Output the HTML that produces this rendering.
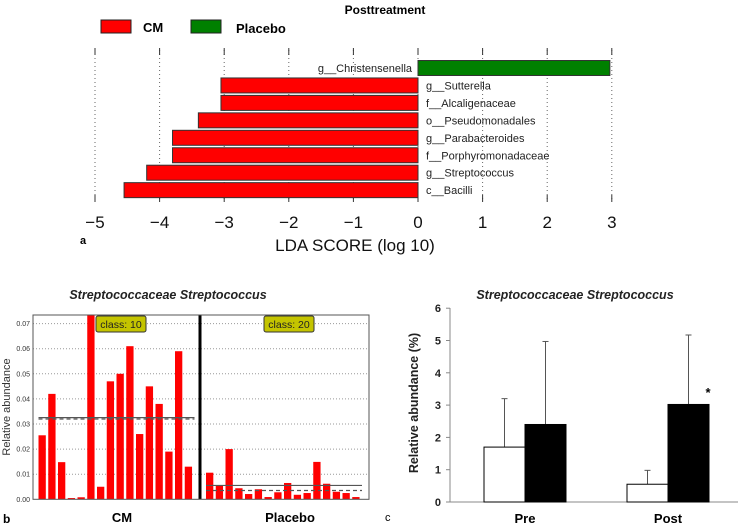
<!DOCTYPE html>
<html><head><meta charset="utf-8"><style>
body{margin:0;background:#fff;}
svg{display:block;font-family:"Liberation Sans","DejaVu Sans",sans-serif;}
</style></head><body>
<svg id="fig" width="740" height="526" viewBox="0 0 740 526">
<g id="pa"></g>
<g id="pb"></g>
<g id="pc"></g>
</svg>
<script>
const ldaFeatures=["g__Christensenella","g__Sutterella","f__Alcaligenaceae","o__Pseudomonadales","g__Parabacteroides","f__Porphyromonadaceae","g__Streptococcus","c__Bacilli"];
const ldaScores=[2.97,-3.05,-3.05,-3.4,-3.8,-3.8,-4.2,-4.55];
const ldaTicks=[-5,-4,-3,-2,-1,0,1,2,3];
const cmValues=[0.0255,0.042,0.0148,0.0005,0.0008,0.074,0.005,0.047,0.050,0.061,0.026,0.045,0.038,0.019,0.059,0.013];
const placeboValues=[0.0106,0.0054,0.020,0.0044,0.0021,0.004,0.0009,0.0028,0.0065,0.0018,0.0025,0.0149,0.0062,0.003,0.0025,0.0009];
const bTicks=[0,0.01,0.02,0.03,0.04,0.05,0.06,0.07];
const bTickLabels=["0.00","0.01","0.02","0.03","0.04","0.05","0.06","0.07"];
const cGroups=["Pre","Post"];
const cPlacebo=[1.7,0.55];
const cPlaceboErr=[1.5,0.43];
const cCM=[2.4,3.02];
const cCMErr=[2.57,2.15];
const cTicks=[0,1,2,3,4,5,6];

const NS="http://www.w3.org/2000/svg";
function mk(parent,tag,attrs,text){const e=document.createElementNS(NS,tag);for(const k in attrs)e.setAttribute(k,attrs[k]);if(text!==undefined)e.textContent=text;parent.appendChild(e);return e;}

// Panel A
const pa=document.getElementById('pa');
const ax=v=>418+v*64.6;
const rowY=i=>68+i*17.45;
let t=mk(pa,'text',{x:385,y:14,'font-size':12,'font-weight':'bold','text-anchor':'middle'},'Posttreatment');

let r=mk(pa,'rect',{x:101,y:20,width:30,height:13,fill:'#f00',stroke:'#222'});

t=mk(pa,'text',{x:143,y:32,'font-size':13,'font-weight':'bold'},'CM');

r=mk(pa,'rect',{x:191,y:20,width:30,height:13,fill:'#008000',stroke:'#222'});

t=mk(pa,'text',{x:236,y:33,'font-size':13,'font-weight':'bold'},'Placebo');

ldaTicks.forEach(v=>{
  const x=ax(v);
  let g=mk(pa,'line',{x1:x,x2:x,y1:50,y2:200,stroke:'#666','stroke-dasharray':'1,3','stroke-width':1});
  
  mk(pa,'line',{x1:x,x2:x,y1:48,y2:55,stroke:'#333'});
  mk(pa,'line',{x1:x,x2:x,y1:195,y2:202,stroke:'#333'});
  let l=mk(pa,'text',{x:x,y:228,'font-size':17,'text-anchor':'middle',fill:'#111'},(v<0?'\u2212'+(-v):''+v));
  
});
ldaScores.forEach((v,i)=>{
  const y=rowY(i);
  const x0=Math.min(ax(0),ax(v)),w=Math.abs(ax(v)-ax(0));
  let b=mk(pa,'rect',{x:x0,y:y-7.5,width:w,height:15,fill:v<0?'#f00':'#008000',stroke:'#333','stroke-width':1});
  
  let l=mk(pa,'text',{x:v<0?ax(0)+8:ax(0)-6,y:y+4,'font-size':11,fill:'#222','text-anchor':v<0?'start':'end'},ldaFeatures[i]);
  
});
t=mk(pa,'text',{x:355,y:251,'font-size':17,'text-anchor':'middle',fill:'#111'},'LDA SCORE (log 10)');

t=mk(pa,'text',{x:80,y:244,'font-size':11,'font-weight':'bold'},'a');


// Panel B
const pb=document.getElementById('pb');
const by=v=>499.3-v*2510;
t=mk(pb,'text',{x:168,y:299,'font-size':12.5,'font-weight':'bold','font-style':'italic','text-anchor':'middle',fill:'#222'},'Streptococcaceae Streptococcus');

mk(pb,'rect',{x:33,y:315,width:336,height:184,fill:'#fff'});
bTicks.forEach((v,i)=>{
  const y=by(v);
  if(i>0){let g=mk(pb,'line',{x1:33,x2:369,y1:y,y2:y,stroke:'#999','stroke-dasharray':'1,2'});}
  let l=mk(pb,'text',{x:30,y:y+2.5,'font-size':7,'text-anchor':'end',fill:'#333'},bTickLabels[i]);
  
});
const step=9.75;
function barsB(vals,x0,name){
  vals.forEach((v,i)=>{
    const top=Math.max(by(v),315);
    let b=mk(pb,'rect',{x:x0+i*step,y:top,width:7.3,height:499.3-top,fill:'#f00'});
    
  });
  const mean=vals.reduce((a,b)=>a+b,0)/vals.length;
  const sorted=[...vals].sort((a,b)=>a-b);
  const med=(sorted[7]+sorted[8])/2;
  let m=mk(pb,'line',{x1:x0,x2:x0+vals.length*step,y1:by(mean),y2:by(mean),stroke:'#555','stroke-width':1.2});
  
  let d=mk(pb,'line',{x1:x0,x2:x0+vals.length*step,y1:by(med),y2:by(med),stroke:'#555','stroke-width':1.2,'stroke-dasharray':'4,3'});
  
}
barsB(cmValues,38.5,'cm-bar');
barsB(placeboValues,206,'placebo-bar');
let dv=mk(pb,'line',{x1:200,x2:200,y1:315,y2:499,stroke:'#000','stroke-width':3});

mk(pb,'rect',{x:33,y:315,width:336,height:184.3,fill:'none',stroke:'#555'});
[[96,'class: 10','class-10-badge'],[264,'class: 20','class-20-badge']].forEach(([x,s,n])=>{
  let b=mk(pb,'rect',{x:x,y:316,width:50,height:16,rx:2,fill:'#c4c400',stroke:'#333'});
  
  mk(pb,'text',{x:x+25,y:328,'font-size':10.5,'text-anchor':'middle',fill:'#222'},s);
});
t=mk(pb,'text',{x:10,y:407,'font-size':11,'text-anchor':'middle',fill:'#333',transform:'rotate(-90 10 407)'},'Relative abundance');

t=mk(pb,'text',{x:122,y:522,'font-size':13,'font-weight':'bold','text-anchor':'middle'},'CM');

t=mk(pb,'text',{x:290,y:522,'font-size':13,'font-weight':'bold','text-anchor':'middle'},'Placebo');

t=mk(pb,'text',{x:3,y:523,'font-size':12,'font-weight':'bold'},'b');


// Panel C
const pc=document.getElementById('pc');
const cy=v=>502-v*32.3;
const groupX=[525,668];
t=mk(pc,'text',{x:575,y:299,'font-size':12.5,'font-weight':'bold','font-style':'italic','text-anchor':'middle',fill:'#222'},'Streptococcaceae Streptococcus');

mk(pc,'line',{x1:450,x2:450,y1:308,y2:502,stroke:'#888'});
mk(pc,'line',{x1:450,x2:738,y1:502,y2:502,stroke:'#888'});
cTicks.forEach(v=>{
  mk(pc,'line',{x1:446,x2:450,y1:cy(v),y2:cy(v),stroke:'#888'});
  let l=mk(pc,'text',{x:441,y:cy(v)+4,'font-size':11,'font-weight':'bold','text-anchor':'end',fill:'#222'},''+v);
  
});
cGroups.forEach((g,i)=>{
  const gx=groupX[i];
  [[cPlacebo,cPlaceboErr,gx-41,'#fff','placebo-bar'],[cCM,cCMErr,gx,'#000','cm-bar']].forEach(([vals,errs,x,f,n])=>{
    const v=vals[i],e=errs[i],cx=x+20.5;
    let el=mk(pc,'line',{x1:cx,x2:cx,y1:cy(v),y2:cy(v+e),stroke:'#555'});
    
    mk(pc,'line',{x1:cx-3,x2:cx+3,y1:cy(v+e),y2:cy(v+e),stroke:'#555'});
    let b=mk(pc,'rect',{x:x,y:cy(v),width:41,height:502-cy(v),fill:f,stroke:'#000','stroke-width':1});
    
  });
  let l=mk(pc,'text',{x:gx,y:523,'font-size':13,'font-weight':'bold','text-anchor':'middle'},g);
  
});
t=mk(pc,'text',{x:708,y:397,'font-size':13,'font-weight':'bold','text-anchor':'middle'},'*');

t=mk(pc,'text',{x:418,y:403,'font-size':12.5,'font-weight':'bold','text-anchor':'middle',fill:'#222',transform:'rotate(-90 418 403)'},'Relative abundance (%)');

t=mk(pc,'text',{x:385,y:521,'font-size':11},'c');

</script>
</body></html>
